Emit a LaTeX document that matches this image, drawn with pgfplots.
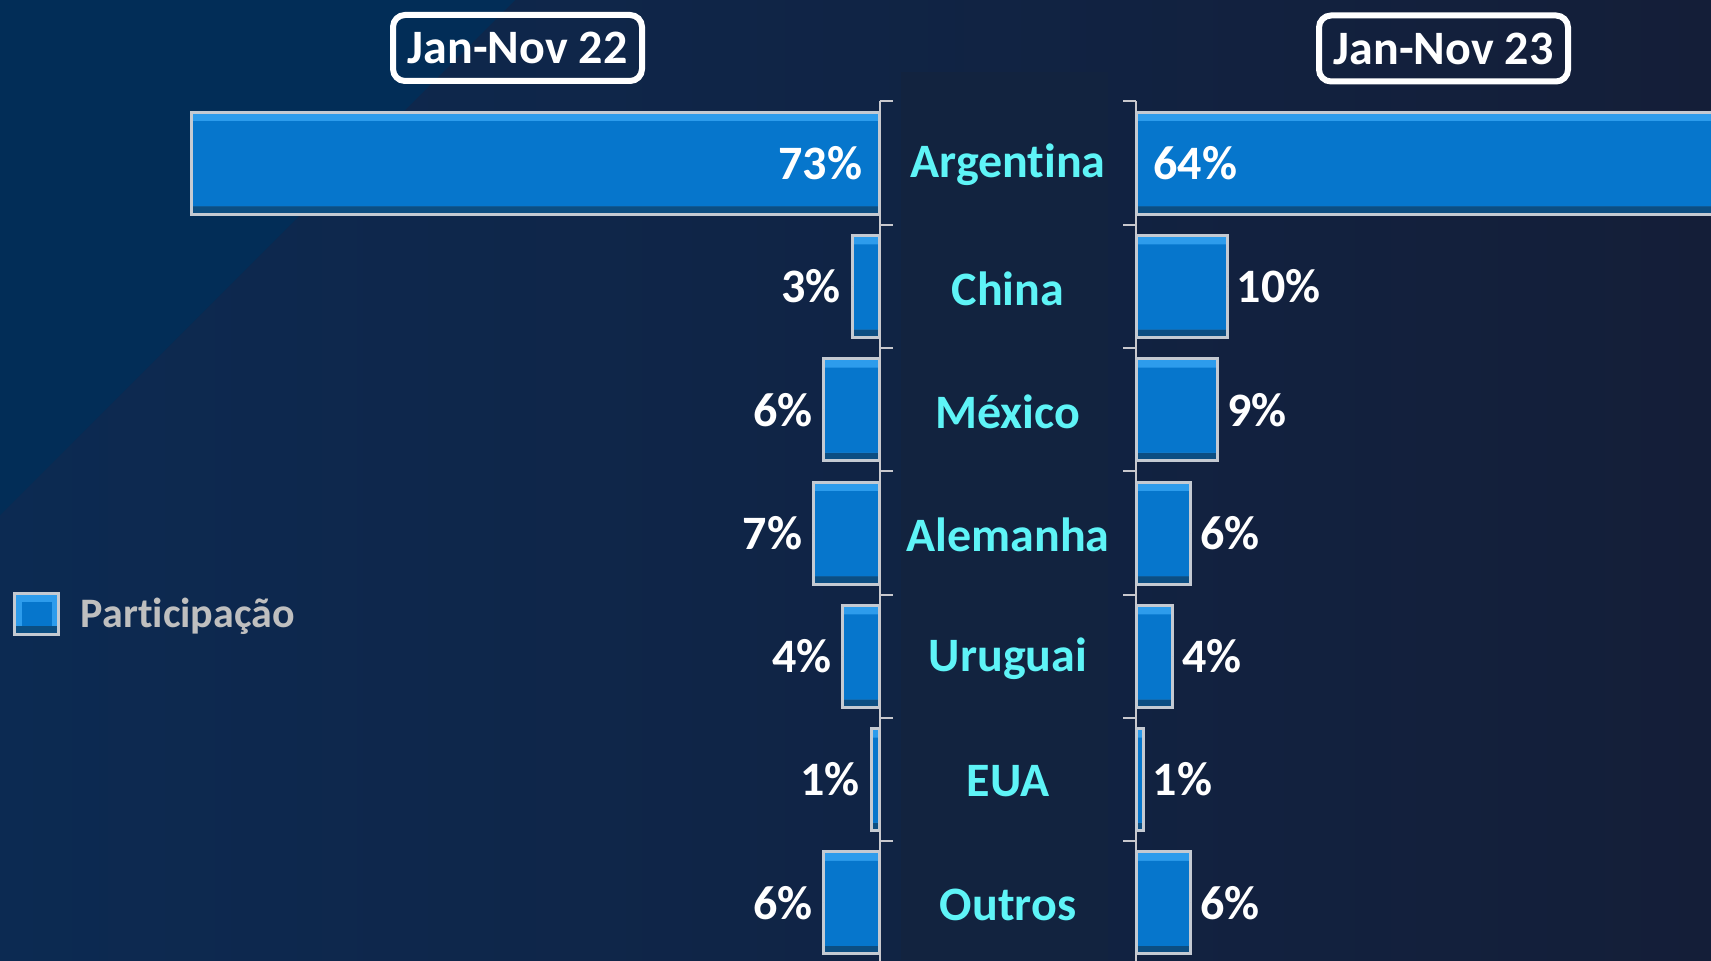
\documentclass[border=0pt]{standalone}
\usepackage{pgfplots}
\usepackage{pgfplotstable}
\pgfplotsset{compat=1.18}
\usepackage{fontspec}
\setmainfont{Carlito}[Ligatures=NoCommon]
\definecolor{bgL}{RGB}{12,42,82}
\definecolor{bgR}{RGB}{20,30,56}
\definecolor{bgTri}{RGB}{2,45,87}
\definecolor{colbg}{RGB}{18,35,63}
\definecolor{bmain}{RGB}{6,118,204}
\definecolor{blight}{RGB}{45,156,236}
\definecolor{bdark}{RGB}{12,78,130}
\definecolor{bordergrey}{RGB}{196,202,210}
\definecolor{axgrey}{RGB}{200,200,205}
\definecolor{catcyan}{RGB}{94,244,247}
\definecolor{leggrey}{RGB}{191,191,191}
\pgfplotsset{/pgf/number format/assume math mode=true}
\tikzset{
  vlabel/.style={font=\fontsize{24}{26}\selectfont\bfseries, text=white, inner sep=0pt},
}
\pgfplotsset{
  layerA/.style={xbar, bar width=51pt, bar shift=0pt, fill=bdark, draw=none},
  layerB/.style={xbar, bar width=47pt, bar shift=2pt, fill=blight, draw=none},
  layerC/.style={xbar, bar width=42.5pt, bar shift=-0.25pt, fill=bmain, draw=none},
  layerD/.style={xbar, bar width=51pt, bar shift=0pt, fill=none, draw=bordergrey, line width=1.5pt},
}
% share = participation (%), row = position from the bottom (Argentina at 6)
\pgfplotstableread{
share row
73.0 6
2.9 5
5.9 4
7.0 3
3.9 2
0.9 1
5.9 0
}\tabL
\pgfplotstableread{
share row
64.0 6
9.7 5
8.7 4
5.8 3
3.9 2
0.8 1
5.8 0
}\tabR
\begin{document}
\begin{tikzpicture}[x=0.5pt,y=0.5pt]
\useasboundingbox (0,0) rectangle (1711,960);
\clip (0,0) rectangle (1711,960);
\shade[left color=bgL, right color=bgR] (0,0) rectangle (1711,960);
\fill[bgTri] (0,960) -- (0,445) -- (515,960) -- cycle;
\fill[colbg] (901,0) rectangle (1108,888);

% Left axis: Jan-Nov 22
\begin{axis}[
  at={(439.75pt,-2.275pt)}, anchor=south east,
  scale only axis, width=376.8pt, height=431.55pt,
  x dir=reverse, xmin=0, xmax=80, ymin=-0.5, ymax=6.5,
  axis lines=none, clip=false,
]
\addplot[layerA] table[x=share,y=row] {\tabL};
\addplot[layerB] table[x=share,y=row] {\tabL};
\addplot[layerC] table[x=share,y=row] {\tabL};
\addplot[layerD] table[x=share,y=row] {\tabL};
\addplot[only marks, mark=*, mark size=0pt, skip coords between index={0}{1},
  point meta=\thisrow{share},
  nodes near coords={\pgfmathprintnumber[fixed,precision=0]{\pgfplotspointmeta}\%},
  every node near coord/.style={vlabel, anchor=east, xshift=-5.5pt}]
  table[x=share,y=row] {\tabL};
\addplot[only marks, mark=*, mark size=0pt, skip coords between index={1}{7},
  point meta=\thisrow{share},
  nodes near coords={\pgfmathprintnumber[fixed,precision=0]{\pgfplotspointmeta}\%},
  every node near coord/.style={vlabel, anchor=east, xshift=-8.5pt}]
  table[x expr=0,y=row] {\tabL};
\draw[axgrey, line width=1pt] (axis cs:0,-0.6) -- (axis cs:0,6.5);
\pgfplotsinvokeforeach{-0.5,0.5,1.5,2.5,3.5,4.5,5.5,6.5}{
  \draw[axgrey, line width=1pt] (axis cs:0,#1) -- ([xshift=6.5pt]axis cs:0,#1);
}
\end{axis}

% Right axis: Jan-Nov 23
\begin{axis}[
  at={(568pt,-2.275pt)}, anchor=south west,
  scale only axis, width=329.7pt, height=431.55pt,
  xmin=0, xmax=70, ymin=-0.5, ymax=6.5,
  axis x line=none, axis y line*=left, clip=false,
  y axis line style={draw=axgrey, line width=1pt, -},
  ytick={0,1,2,3,4,5,6},
  yticklabels={Outros,EUA,Uruguai,Alemanha,México,China,Argentina},
  yticklabel style={font=\fontsize{24}{26}\selectfont\bfseries, text=catcyan, anchor=center, xshift=-64pt, yshift=-1pt, inner sep=0pt},
  minor ytick={-0.5,0.5,1.5,2.5,3.5,4.5,5.5,6.5},
  major tick length=0pt, minor tick length=6.5pt, tick align=outside,
  tick style={draw=axgrey, line width=1pt},
  legend style={at={(axis description cs:-1.7031,0.4062)}, anchor=west,
    draw=none, fill=none, inner sep=0pt,
    font=\fontsize{21}{23}\selectfont\bfseries, text=leggrey,
    nodes={inner sep=0pt}},
  legend image code/.code={
    \path[fill=bdark, draw=none] (0pt,-10.25pt) rectangle (22pt,10.25pt);
    \path[fill=blight, draw=none] (0pt,-6.25pt) rectangle (22pt,10.25pt);
    \path[fill=bmain, draw=none] (3.5pt,-6.25pt) rectangle (18.5pt,6pt);
    \path[draw=bordergrey, fill=none, line width=1.5pt] (0pt,-10.25pt) rectangle (22pt,10.25pt);
    \path[draw=none, fill=none] (33pt,0pt) circle (0.01pt);
  },
]
\addplot[layerA] table[x=share,y=row] {\tabR};
\addlegendentry{Participação}
\addplot[layerB, forget plot] table[x=share,y=row] {\tabR};
\addplot[layerC, forget plot] table[x=share,y=row] {\tabR};
\addplot[layerD, forget plot] table[x=share,y=row] {\tabR};
\addplot[only marks, mark=*, mark size=0pt, forget plot, skip coords between index={0}{1},
  point meta=\thisrow{share},
  nodes near coords={\pgfmathprintnumber[fixed,precision=0]{\pgfplotspointmeta}\%},
  every node near coord/.style={vlabel, anchor=west, xshift=4.5pt}]
  table[x=share,y=row] {\tabR};
\addplot[only marks, mark=*, mark size=0pt, forget plot, skip coords between index={1}{7},
  point meta=\thisrow{share},
  nodes near coords={\pgfmathprintnumber[fixed,precision=0]{\pgfplotspointmeta}\%},
  every node near coord/.style={vlabel, anchor=west, xshift=8.5pt}]
  table[x expr=0,y=row] {\tabR};
\end{axis}

\node[draw=white, line width=3pt, rounded corners=6pt, minimum width=124.5pt, minimum height=33pt, inner sep=0pt, text=white, font=\fontsize{24}{26}\selectfont\bfseries] at (517.5,912) {Jan-Nov 22};
\node[draw=white, line width=3pt, rounded corners=6pt, minimum width=124.5pt, minimum height=33pt, inner sep=0pt, text=white, font=\fontsize{24}{26}\selectfont\bfseries] at (1443.5,911.5) {Jan-Nov 23};
\end{tikzpicture}
\end{document}
